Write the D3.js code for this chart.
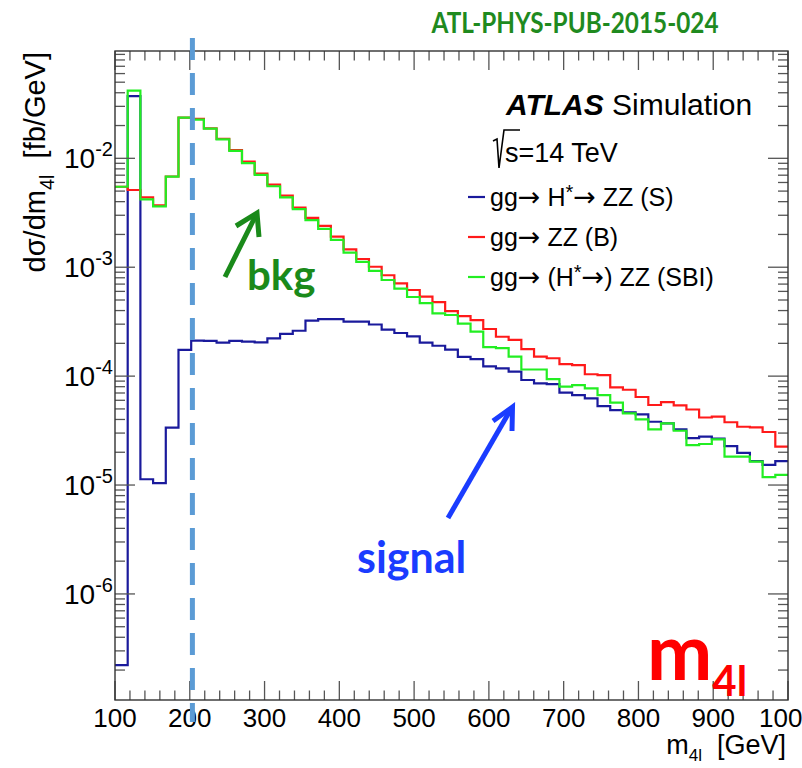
<!DOCTYPE html>
<html><head><meta charset="utf-8">
<script src="https://cdn.jsdelivr.net/npm/d3@7"></script>
<style>html,body{margin:0;padding:0;background:#fff;} svg{display:block} .pre{white-space:pre}</style>
</head><body>
<svg id="c" width="802" height="768"></svg>
<script>
// ---------------- data ----------------
const binLow = 100, binHigh = 1000, nBins = 53;   // m4l histogram binning [GeV]
const signalS = [2.22e-7,0.0373,1.13e-5,1.04e-5,3.36e-5,1.74e-4,2.12e-4,2.11e-4,2.03e-4,2.11e-4,2.07e-4,2.04e-4,2.22e-4,2.44e-4,2.61e-4,3.23e-4,3.34e-4,3.34e-4,3.16e-4,3.16e-4,2.98e-4,2.67e-4,2.49e-4,2.32e-4,2.03e-4,1.90e-4,1.75e-4,1.50e-4,1.43e-4,1.23e-4,1.18e-4,1.10e-4,9.21e-5,8.59e-5,8.46e-5,7.07e-5,6.70e-5,6.25e-5,5.31e-5,4.88e-5,4.65e-5,4.46e-5,3.81e-5,3.69e-5,3.25e-5,2.70e-5,2.78e-5,2.67e-5,2.28e-5,1.97e-5,1.66e-5,1.53e-5,1.66e-5];
const bkgB = [5.48e-3,5.12e-3,4.37e-3,3.70e-3,6.81e-3,0.0236,0.0230,0.0188,0.0151,0.0119,9.33e-3,7.24e-3,5.73e-3,4.54e-3,3.52e-3,2.84e-3,2.40e-3,1.91e-3,1.46e-3,1.19e-3,1.01e-3,8.44e-4,7.11e-4,6.18e-4,5.36e-4,4.79e-4,3.96e-4,3.56e-4,3.27e-4,2.71e-4,2.30e-4,2.15e-4,1.77e-4,1.51e-4,1.46e-4,1.29e-4,1.26e-4,1.04e-4,1.02e-4,7.89e-5,7.50e-5,6.43e-5,5.43e-5,5.76e-5,5.39e-5,4.94e-5,4.17e-5,4.24e-5,3.77e-5,3.43e-5,3.39e-5,3.07e-5,2.25e-5];
const sbiSBI = [5.48e-3,0.0418,4.20e-3,3.62e-3,6.78e-3,0.0236,0.0227,0.0187,0.0149,0.0117,9.02e-3,7.04e-3,5.54e-3,4.38e-3,3.41e-3,2.71e-3,2.25e-3,1.78e-3,1.36e-3,1.12e-3,9.27e-4,7.63e-4,6.37e-4,5.33e-4,4.69e-4,3.77e-4,3.64e-4,3.03e-4,2.56e-4,1.85e-4,1.81e-4,1.51e-4,1.15e-4,1.15e-4,9.40e-5,8.00e-5,8.28e-5,7.73e-5,6.70e-5,5.70e-5,4.55e-5,4.01e-5,3.25e-5,3.69e-5,3.15e-5,2.33e-5,2.38e-5,2.63e-5,1.82e-5,1.82e-5,1.64e-5,1.18e-5,1.24e-5];
const xTickLabels = [100,200,300,400,500,600,700,800,900,1000];
const yTickExponents = [-6,-5,-4,-3,-2];
const yDomain = [1.062e-7, 0.0967];
const markerMass = 203.5;
const seriesNames = ["S","B","SBI"];
// legend label pieces: [text, kind]  kind: 0 normal, 1 superscript, 2 arrow
const legendParts = [
  [["gg",0],["\u2192",2],[" H",0],["*",1],["\u2192",2],[" ZZ (S)",0]],
  [["gg",0],["\u2192",2],[" ZZ (B)",0]],
  [["gg",0],["\u2192",2],[" (H",0],["*",1],["\u2192",2],[") ZZ (SBI)",0]]
];
const seriesColors = {S:"#1a1a9c", B:"#ff1a1a", SBI:"#22ee22"};

// ---------------- layout ----------------
const svg = d3.select("#c");
const L = 115, R = 788, T = 51, B = 700;
const x = d3.scaleLinear().domain([binLow, binHigh]).range([L, R]);
const y = d3.scaleLog().domain(yDomain).range([B, T]);
const fontRoot = "'Liberation Sans', Arial, Helvetica, sans-serif";
const fontAnno = "Lato, 'Open Sans', sans-serif";

const edges = d3.range(nBins + 1).map(i => binLow + i * (binHigh - binLow) / nBins);

svg.append("defs").append("clipPath").attr("id","clip")
  .append("rect").attr("x",L).attr("y",T).attr("width",R-L).attr("height",B-T);

// histograms
const line = d3.line().curve(d3.curveStepAfter).x(d => x(d[0])).y(d => y(d[1]));
function histPts(vals){
  const p = vals.map((v,i)=>[edges[i], v]);
  p.push([edges[nBins], vals[nBins-1]]);
  return p;
}
const g = svg.append("g").attr("clip-path","url(#clip)");
[["S",signalS],["B",bkgB],["SBI",sbiSBI]].forEach(([k,vals])=>{
  g.append("path").attr("d", line(histPts(vals)))
   .attr("fill","none").attr("stroke",seriesColors[k]).attr("stroke-width",2.2);
});

// frame + ticks
const tickCol = "#555";
const ax = svg.append("g").attr("stroke",tickCol).attr("stroke-width",1.3);
const xMinor = d3.range(binLow, binHigh + 1, 20);
xMinor.forEach(v=>{
  const major = v % 100 === 0;
  const len = major ? 19 : 9.5;
  ax.append("line").attr("x1",x(v)).attr("x2",x(v)).attr("y1",B).attr("y2",B-len);
  ax.append("line").attr("x1",x(v)).attr("x2",x(v)).attr("y1",T).attr("y2",T+len);
});
for (let e=-7; e<=-1; e++){
  for (let m=1; m<=9; m++){
    const v = m*Math.pow(10,e);
    if (v < yDomain[0] || v > yDomain[1]) continue;
    const len = m===1 ? 20 : 10;
    ax.append("line").attr("x1",L).attr("x2",L+len).attr("y1",y(v)).attr("y2",y(v));
    ax.append("line").attr("x1",R).attr("x2",R-len).attr("y1",y(v)).attr("y2",y(v));
  }
}
svg.append("rect").attr("x",L).attr("y",T).attr("width",R-L).attr("height",B-T)
  .attr("fill","none").attr("stroke","#333").attr("stroke-width",1.4);

// x tick labels
svg.append("g").selectAll("text").data(xTickLabels).join("text")
  .attr("x",d=>x(d)).attr("y",727).attr("text-anchor","middle")
  .attr("font-family",fontRoot).attr("font-size",26).attr("fill","#000")
  .text(d=>d);

// y tick labels
const yl = svg.append("g").selectAll("text").data(yTickExponents).join("text")
  .attr("x",113).attr("y",d=>y(Math.pow(10,d))+10).attr("text-anchor","end")
  .attr("font-family",fontRoot).attr("font-size",28).attr("fill","#000");
yl.append("tspan").text("10");
yl.append("tspan").attr("dy",-12).attr("font-size",20).text(d=>String(d));

// axis titles
const yt = svg.append("text").attr("class","pre").attr("transform","translate(45,52) rotate(-90)")
  .attr("text-anchor","end").attr("font-family",fontRoot).attr("font-size",29).attr("fill","#000");
yt.append("tspan").text("d\u03c3/dm");
yt.append("tspan").attr("dy",9).attr("font-size",20).text("4l");
yt.append("tspan").attr("dy",-9).text("  [fb/GeV]");

const xt = svg.append("text").attr("class","pre").attr("x",786).attr("y",754).attr("text-anchor","end")
  .attr("font-family",fontRoot).attr("font-size",27).attr("fill","#000");
xt.append("tspan").text("m");
xt.append("tspan").attr("dy",7).attr("font-size",17).text("4l");
xt.append("tspan").attr("dy",-7).text("  [GeV]");

// ATLAS label
const at = svg.append("text").attr("x",506).attr("y",115).attr("font-family",fontRoot).attr("font-size",30).attr("fill","#000");
at.append("tspan").attr("font-weight","bold").attr("font-style","italic").text("ATLAS");
at.append("tspan").text(" Simulation");

// sqrt(s)
svg.append("path").attr("d","M493,141 L497,139 L499,168 L504,130 L520,130")
  .attr("fill","none").attr("stroke","#000").attr("stroke-width",1.6);
svg.append("text").attr("x",505).attr("y",162).attr("font-family",fontRoot).attr("font-size",27).attr("fill","#000")
  .text("s=14 TeV");

// legend
const legY = [197, 237, 277];
seriesNames.forEach((k,i)=>{
  svg.append("line").attr("x1",468).attr("x2",485).attr("y1",legY[i]).attr("y2",legY[i])
    .attr("stroke",seriesColors[k]).attr("stroke-width",2.2);
  const t = svg.append("text").attr("x",490).attr("y",legY[i]+9).attr("font-family",fontRoot)
    .attr("font-size",25).attr("fill","#000");
  let shift = 0;
  legendParts[i].forEach(([s,kind])=>{
    const ts = t.append("tspan").text(s);
    let dy = -shift;
    if (kind === 1) { dy += -7; shift = -7; ts.attr("font-size",20); }
    else { shift = 0; }
    if (kind === 2) ts.attr("font-family","'DejaVu Sans', sans-serif").attr("font-size",27);
    if (dy !== 0) ts.attr("dy", dy);
  });
});

// dashed marker line
svg.append("line").attr("x1",x(markerMass)).attr("x2",x(markerMass)).attr("y1",38).attr("y2",722)
  .attr("stroke","#5b9bd5").attr("stroke-width",5).attr("stroke-dasharray","22,13");

// title
svg.append("text").attr("x",575).attr("y",33).attr("text-anchor","middle")
  .attr("font-family",fontAnno).attr("font-weight","bold").attr("font-size",28).attr("fill","#1f8a1f")
  .attr("textLength",287).attr("lengthAdjust","spacingAndGlyphs")
  .text("ATL-PHYS-PUB-2015-024");

// bkg annotation
svg.append("line").attr("x1",225).attr("y1",277).attr("x2",256).attr("y2",215)
  .attr("stroke","#1a8a1a").attr("stroke-width",5);
svg.append("path").attr("d","M236,226 L257,213 L259,237").attr("fill","none")
  .attr("stroke","#1a8a1a").attr("stroke-width",5).attr("stroke-linejoin","miter");
svg.append("text").attr("x",247).attr("y",290).attr("font-family",fontAnno).attr("font-weight","bold")
  .attr("font-size",42).attr("fill","#1a8a1a").text("bkg");

// signal annotation
svg.append("line").attr("x1",448).attr("y1",518).attr("x2",511).attr("y2",409)
  .attr("stroke","#1a3cff").attr("stroke-width",5);
svg.append("path").attr("d","M493,421 L512.5,407 L512,431").attr("fill","none")
  .attr("stroke","#1a3cff").attr("stroke-width",5);
svg.append("text").attr("x",357).attr("y",573).attr("font-family",fontAnno).attr("font-weight","bold")
  .attr("font-size",43).attr("fill","#1a3cff").text("signal");

// m4l big label
const mt = svg.append("text").attr("x",647).attr("y",680).attr("font-family",fontAnno).attr("font-weight","bold")
  .attr("font-size",78).attr("fill","#ff0000");
mt.append("tspan").text("m");
mt.append("tspan").attr("dy",16).attr("font-size",42).text("4l");
</script>
</body></html>
